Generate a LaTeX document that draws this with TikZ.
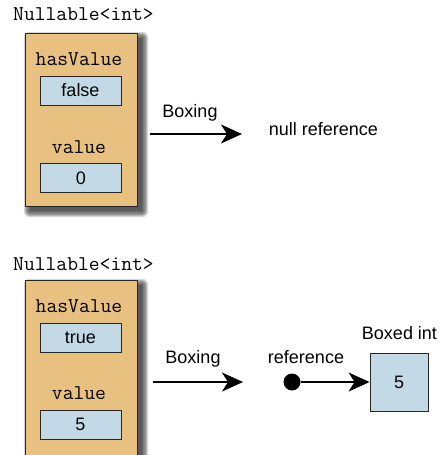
\documentclass[tikz,border=0pt]{standalone}
\usepackage{fontspec}
\setmainfont{Liberation Sans}
\usepackage{tikz}
\usetikzlibrary{arrows.meta,backgrounds}
\definecolor{holderfill}{HTML}{E8C080}
\definecolor{fieldfill}{HTML}{C3DAE6}

\begin{document}
\begin{tikzpicture}[x=1pt,y=-1pt,font=\fontsize{18}{21}\selectfont,
  holder/.style={draw=black!85,fill=holderfill,minimum width=112pt,inner sep=0pt},
  field/.style={draw=black!85,fill=fieldfill,line width=0.9pt,minimum width=81pt,minimum height=29pt,inner sep=0pt},
  code/.style={font=\fontsize{21}{24}\selectfont\ttfamily,anchor=base,inner sep=0pt},
  boxing/.style={line width=1.6pt,-{Stealth[length=21pt,width=19pt,inset=6pt]}}]

\clip (0,0) rectangle (442,455);
\useasboundingbox (0,0) rectangle (442,455);

% empty nullable
\node at (13,20) [code,anchor=base west] (title1) {Nullable<int>};
\node at (81,119.5) [holder,minimum height=173pt] (holder1) {};
\node at (79,65) [code] (hasvalue1) {hasValue};
\node at (80.5,90.5) [field] (flag1) {false};
\node at (79,153) [code] (value1) {value};
\node at (81,178) [field] (val1) {0};

\coordinate (from1) at (150,134);
\coordinate (to1) at (242,134);
\draw[boxing] (from1) -- (to1);
\node at (190,117) [anchor=base] (boxing1) {Boxing};
\node at (323.5,135) [anchor=base] (nullref) {null reference};

% nullable with a value
\node at (13,270) [code,anchor=base west] (title2) {Nullable<int>};
\node at (81,375) [holder,minimum height=190pt] (holder2) {};
\node at (79,312) [code] (hasvalue2) {hasValue};
\node at (80.5,338) [field] (flag2) {true};
\node at (79,399) [code] (value2) {value};
\node at (80.5,424.5) [field] (val2) {5};

\coordinate (from2) at (153,382);
\coordinate (to2) at (243,382);
\draw[boxing] (from2) -- (to2);
\node at (193,363) [anchor=base] (boxing2) {Boxing};
\node at (306,363) [anchor=base] (ref) {reference};
\node at (292,382) [circle,fill=black,minimum size=17pt,inner sep=0pt] (dot) {};
\node at (399,382) [field,minimum width=58pt,minimum height=58pt] (boxed) {5};
\node at (399.5,339) [anchor=base] (boxedlabel) {Boxed int};
\draw[boxing] (dot) -- (boxed);

% soft shadows behind the holders
\begin{scope}[on background layer]
  \foreach \h in {holder1,holder2}
    \foreach \e in {0,1.2,...,6}
      \fill[black,opacity=0.16,rounded corners=\e pt]
        ([shift={(5-\e,5-\e)}]\h.north west) rectangle ([shift={(5+\e,5+\e)}]\h.south east);
\end{scope}

\end{tikzpicture}
\end{document}
